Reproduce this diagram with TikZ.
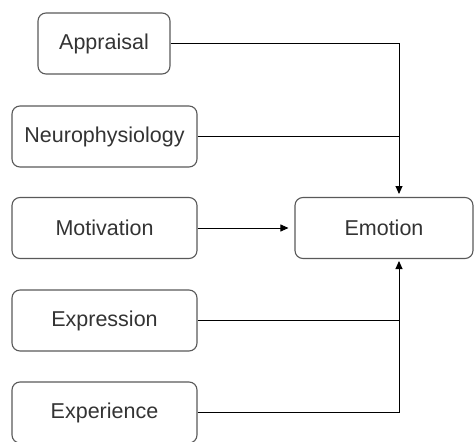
\documentclass[tikz,border=0pt]{standalone}
\usepackage{fontspec}
\setmainfont{Liberation Sans}
\usetikzlibrary{arrows.meta}
\begin{document}
\begin{tikzpicture}[x=1pt,y=-1pt,
  box/.style={draw=black!65, line width=1.1pt, rounded corners=8pt,
    minimum height=61pt, inner sep=0pt, text=black!80,
    font=\fontsize{21.5}{24}\selectfont},
  link/.style={draw=black, line width=0.9pt},
  tip/.style={-{Triangle[length=8pt,width=7pt]}}]
\useasboundingbox (0,0) rectangle (475,442);

\node[box, minimum width=132pt] (app) at (104,43.5) {Appraisal};
\node[box, minimum width=185pt] (neu) at (104.5,136.5) {Neurophysiology};
\node[box, minimum width=185pt] (mot) at (104.5,228) {Motivation};
\node[box, minimum width=185pt] (exs) at (104.5,320.5) {Expression};
\node[box, minimum width=185pt] (exp) at (104.5,412.5) {Experience};
\node[box, minimum width=178pt] (emo) at (384,228) {Emotion};

\coordinate (et) at (399,197);
\coordinate (eb) at (399,259);

\draw[link, tip, shorten >=3pt] (app.east) -| (et);
\draw[link] (neu.east) -- (neu.east -| et);
\draw[link, tip, shorten >=6pt] (mot.east) -- (emo.west);
\draw[link] (exs.east) -- (exs.east -| eb);
\draw[link, tip, shorten >=2pt] (exp.east) -| (eb);
\end{tikzpicture}
\end{document}
